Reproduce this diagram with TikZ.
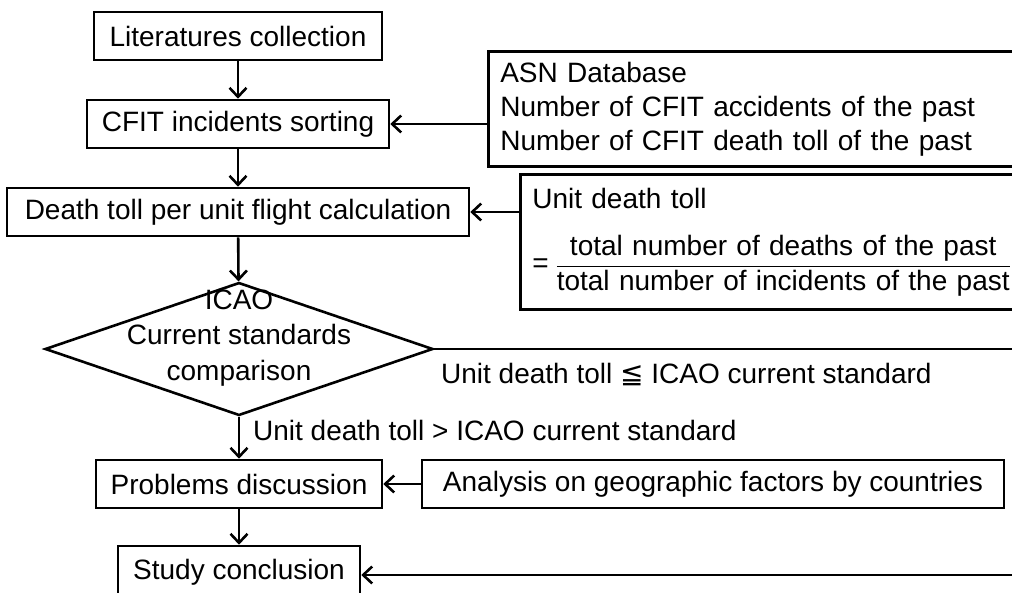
\documentclass[tikz,border=0pt]{standalone}
\usepackage{amsmath}
\usepackage{fontspec}
\setmainfont{Liberation Sans}
\newfontfamily\symfont{DejaVu Sans}
\usetikzlibrary{arrows.meta,positioning,shapes.geometric}
\tikzset{
  txt/.style={font=\fontsize{28}{34}\selectfont, inner sep=2pt},
  stepbox/.style={txt, draw, rectangle, line width=2.6pt, minimum height=48pt,
                  inner sep=4pt},
  infobox/.style={stepbox, anchor=north west, align=left, inner xsep=12pt},
  decide/.style={draw, diamond, line width=2.6pt, inner sep=0pt,
                 minimum width=388pt, minimum height=133pt},
  flow/.style={-{Straight Barb[length=9pt,width=17pt,line width=2.6pt]}, line width=2.6pt},
  plain/.style={line width=2.6pt},
}

\begin{document}
\begin{tikzpicture}[x=1pt, y=-1pt]
  \useasboundingbox (0,0) rectangle (1012,592);
  \clip (0,0) rectangle (1012,592);
  % main flow
  \node[stepbox, minimum width=288pt] (lit)   at (238,36)  {Literatures collection};
  \node[stepbox, minimum width=302pt] (sort)  at (238,124) {CFIT incidents sorting};
  \node[stepbox, minimum width=462pt] (death) at (238,212) {Death toll per unit flight calculation};
  \node[decide] (cmp) at (239,349) {};
  \node[txt, align=center, font=\fontsize{28}{35.5}\selectfont] (cmptext) at (239,338)
    {ICAO\\Current standards\\comparison};
  \node[stepbox, minimum width=286pt] (disc)  at (239,484) {Problems discussion};
  \node[stepbox, minimum width=242pt, minimum height=52pt] (concl) at (239,572) {Study conclusion};
  % side inputs
  \node[infobox, text width=540pt, minimum height=115pt] (asn) at (487,50)
    {ASN Database\\Number of CFIT accidents of the past\\Number of CFIT death toll of the past};
  \node[infobox, text width=500pt, minimum height=135pt] (unit) at (519,173)
    {Unit death toll\\[26pt]
     $\text{=}\;\dfrac{\text{total number of deaths of the past}}{\text{total number of incidents of the past}}$};
  \node[stepbox, minimum width=582pt] (ana) at (713,484) {Analysis on geographic factors by countries};
  \coordinate (rend) at (1020,351);
  \coordinate (bend) at (1020,575);
  % branch labels
  \node[txt, anchor=west] (lesslbl) at (439,375)
    {Unit death toll {\symfont ≦} ICAO current standard};
  \node[txt, anchor=west] (morelbl) at (251,430) {Unit death toll > ICAO current standard};
  % connectors
  \draw[flow] (lit) -- (sort);
  \draw[flow] (sort) -- (death);
  \draw[flow] (death) -- (cmp);
  \draw[flow] (cmp) -- (disc);
  \draw[flow] (disc) -- (concl);
  \draw[flow] (asn.west |- sort.east) -- (sort.east);
  \draw[flow] (unit.west |- death.east) -- (death.east);
  \draw[flow] (ana) -- (disc);
  \draw[plain] (cmp.east) -- (cmp.east -| rend);
  \draw[flow] (bend) -- (bend -| concl.east);
\end{tikzpicture}
\end{document}
